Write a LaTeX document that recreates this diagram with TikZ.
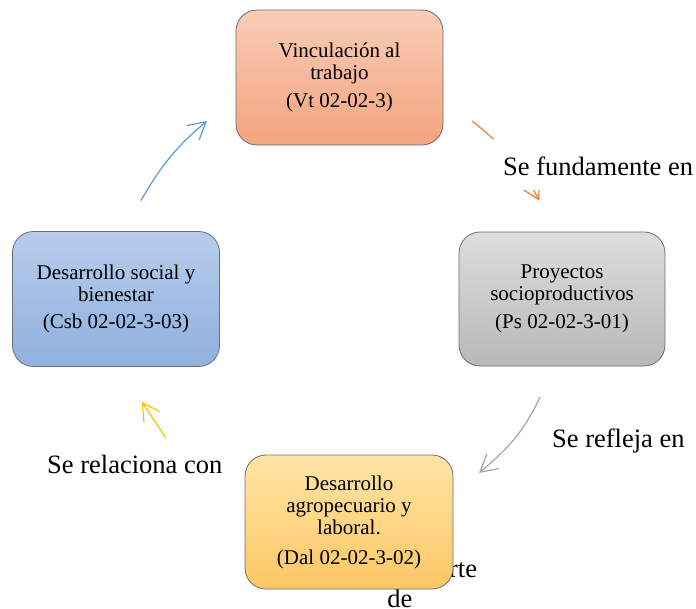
\documentclass[tikz,border=0pt]{standalone}
\usepackage{fontspec}
\setmainfont{Liberation Serif}
\usetikzlibrary{arrows.meta}

\definecolor{arrOrange}{RGB}{237,125,49}
\definecolor{arrGray}{RGB}{165,165,165}
\definecolor{arrYellow}{RGB}{255,192,0}
\definecolor{arrBlue}{RGB}{91,155,213}
\definecolor{boxLine}{RGB}{110,110,110}

\tikzset{
  cyclebox/.style={draw=boxLine, line width=0.8pt, rounded corners=21pt,
    minimum width=207pt, minimum height=135pt, inner sep=0pt, align=center,
    font=\fontsize{21}{22}\selectfont},
  linktext/.style={inner sep=0pt, font=\fontsize{26.5}{30}\selectfont},
  cyclearrow/.style={line width=1.2pt, -{Straight Barb[length=17pt,width=19pt]}}
}

\begin{document}
\begin{tikzpicture}[x=1pt,y=1pt]
\useasboundingbox (0,0) rectangle (696,-608);

% text partly hidden behind the lower box (base = last line)
\node[linktext, align=center, anchor=base] (hidden) at (400,-607) {\hspace*{12pt}Forman parte\\[0pt]de};

% the four boxes of the cycle
\node[cyclebox, top color={rgb,255:red,249;green,205;blue,184}, bottom color={rgb,255:red,244;green,163;blue,127}]
  (vt) at (339.5,-77.5) {Vinculación al\\trabajo\\[6pt](Vt 02-02-3)};
\node[cyclebox, minimum width=206pt, minimum height=134pt, top color={rgb,255:red,222;green,222;blue,222}, bottom color={rgb,255:red,184;green,184;blue,184}]
  (ps) at (562,-299) {Proyectos\\socioproductivos\\[6pt](Ps 02-02-3-01)};
\node[cyclebox, minimum width=208pt, minimum height=134pt, top color={rgb,255:red,255;green,228;blue,166}, bottom color={rgb,255:red,252;green,199;blue,100}]
  (dal) at (349,-522) {Desarrollo\\agropecuario y\\laboral.\\[8pt](Dal 02-02-3-02)};
\node[cyclebox, top color={rgb,255:red,184;green,204;blue,236}, bottom color={rgb,255:red,143;green,176;blue,222}]
  (csb) at (116,-299) {Desarrollo social y\\bienestar\\[5pt](Csb 02-02-3-03)};

% arrow end points
\coordinate (o1) at (472,-121);
\coordinate (o2) at (539.3,-200.7);
\coordinate (g1) at (540,-397);
\coordinate (g2) at (479,-473);
\coordinate (y1) at (166,-438);
\coordinate (y2) at (141.7,-401.7);
\coordinate (b1) at (141,-200.5);
\coordinate (b2) at (207,-121);

% connectors
\draw[cyclearrow, arrOrange] (o1) to[out=-38, in=118] (o2);
\draw[cyclearrow, arrGray] (g1) to[out=245, in=40] (g2);
\draw[cyclearrow, arrYellow] (y1) -- (y2);
\draw[cyclearrow, arrBlue] (b1) to[out=60, in=220] (b2);

% connector labels
\node[linktext, fill=white, inner xsep=10pt, text height=36pt, text depth=15pt, anchor=base west]
  (lf) at (493,-175) {Se fundamente en};
\node[linktext, anchor=base west] (lr) at (552,-447) {Se refleja en};
\node[linktext, anchor=base west] (lc) at (47,-473) {Se relaciona con};
\end{tikzpicture}
\end{document}
